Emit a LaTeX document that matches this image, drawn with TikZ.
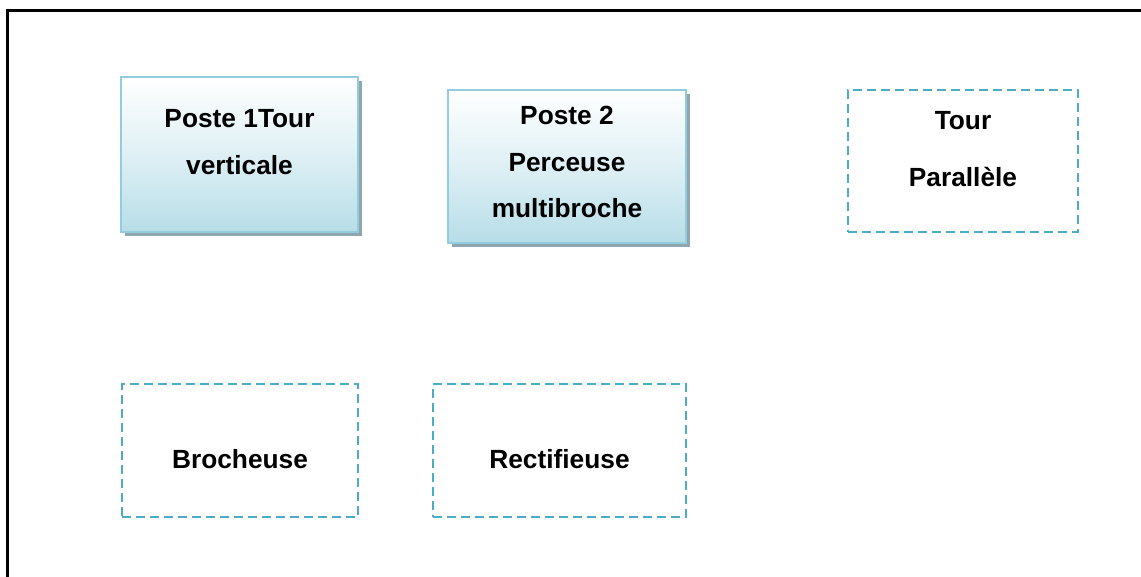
\documentclass[tikz,border=0pt]{standalone}
\usepackage{fontspec}
\setmainfont{Liberation Sans}
\definecolor{boxline}{HTML}{93CDDD}
\definecolor{boxfill}{HTML}{B7DDE8}
\definecolor{boxshadow}{HTML}{8EA6AE}
\definecolor{dashline}{HTML}{4BACC6}
\tikzset{
  postebox/.style={draw=boxline, line width=2.2pt, top color=white, bottom color=boxfill,
    middle color=white!55!boxfill, rectangle, inner sep=0pt},
  shadowbox/.style={fill=boxshadow, draw=none, rectangle, inner sep=0pt},
  planbox/.style={draw=dashline, line width=2.6pt, dash pattern=on 9pt off 5pt, rectangle, inner sep=0pt},
  lbl/.style={anchor=base, inner sep=0pt, font=\fontsize{26.3}{30}\selectfont\bfseries},
  frame/.style={draw=black, line width=2.2pt}
}
\begin{document}
\begin{tikzpicture}[x=1pt, y=-1pt]
  \useasboundingbox (0,0) rectangle (1141,577);
  \clip (0,0) rectangle (1141,577);
  % outer frame
  \draw[frame] (7.5,1000) -- (7.5,10.5) -- (1200,10.5);

  % station 1
  \node[shadowbox, minimum width=237pt, minimum height=155pt] (s1) at (243.5,158.5) {};
  \node[postebox, minimum width=237pt, minimum height=155pt] (p1) at (239.5,154.5) {};
  \node[lbl] (p1a) at (p1.center |- 0,128) {Poste 1Tour};
  \node[lbl] (p1b) at (p1.center |- 0,175) {verticale};

  % station 2
  \node[shadowbox, minimum width=238pt, minimum height=153pt] (s2) at (571,170.5) {};
  \node[postebox, minimum width=238pt, minimum height=153pt] (p2) at (567,166.5) {};
  \node[lbl] (p2a) at (p2.center |- 0,125) {Poste 2};
  \node[lbl] (p2b) at (p2.center |- 0,172) {Perceuse};
  \node[lbl] (p2c) at (p2.center |- 0,218) {multibroche};

  % planned machines
  \node[planbox, minimum width=230pt, minimum height=142pt] (t3) at (963,161) {};
  \node[lbl] (t3a) at (t3.center |- 0,130) {Tour};
  \node[lbl] (t3b) at (t3.center |- 0,187) {Parallèle};

  \node[planbox, minimum width=236pt, minimum height=133pt] (b1) at (240,450.5) {};
  \node[lbl] (b1a) at (b1.center |- 0,468) {Brocheuse};

  \node[planbox, minimum width=253pt, minimum height=133pt] (r1) at (559.5,450.5) {};
  \node[lbl] (r1a) at (r1.center |- 0,468) {Rectifieuse};
\end{tikzpicture}
\end{document}
